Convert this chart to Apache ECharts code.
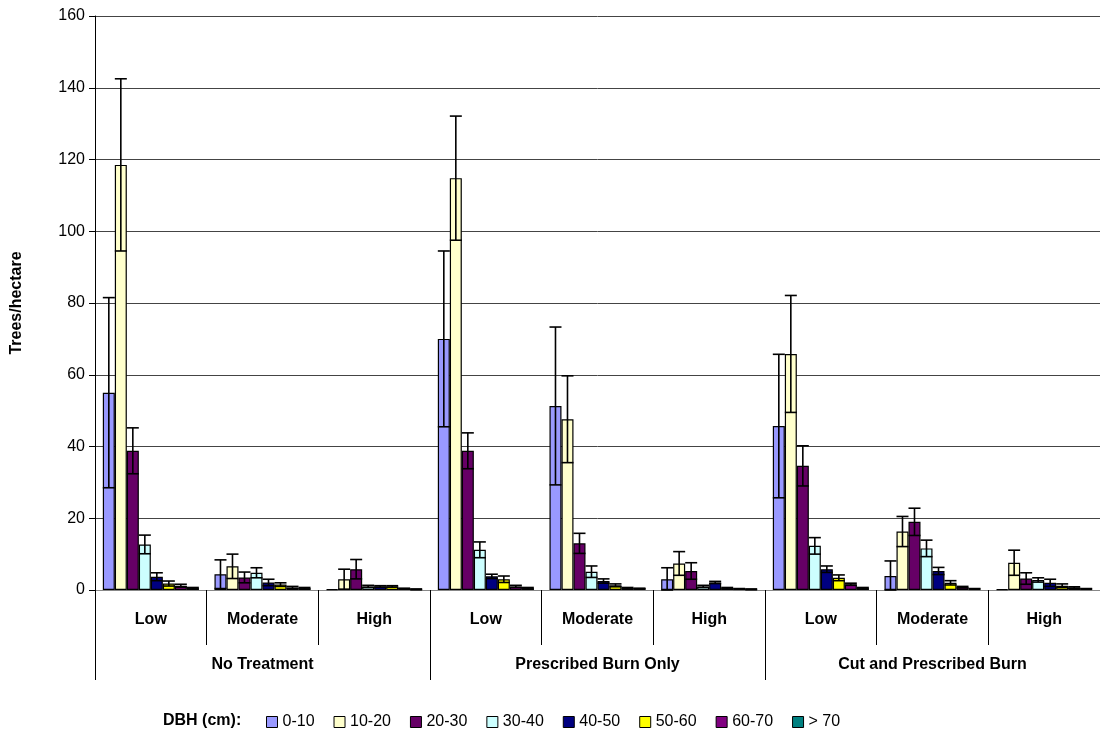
<!DOCTYPE html>
<html>
<head>
<meta charset="utf-8">
<script src="https://cdn.jsdelivr.net/npm/echarts@6/dist/echarts.min.js"></script>
<style>
  html, body { margin: 0; padding: 0; background: #fff; }
  #chart { width: 1100px; height: 736px; }
</style>
</head>
<body>
<div id="chart"></div>
<script>
// severity classes within each treatment
const severities = ['Low', 'Moderate', 'High', 'Low', 'Moderate', 'High', 'Low', 'Moderate', 'High']
const treatments = ['No Treatment', 'Prescribed Burn Only', 'Cut and Prescribed Burn']
const yTicks = [0, 20, 40, 60, 80, 100, 120, 140, 160]

const dbhClasses = ['0-10', '10-20', '20-30', '30-40', '40-50', '50-60', '60-70', '> 70']
const dbhColors = ['#9999FF', '#FFFFCC', '#660066', '#CCFFFF', '#000080', '#FFFF00', '#800080', '#008080']

// mean trees/hectare per DBH class (9 values: treatment x severity)
const d0_10 = [55, 4.4, 0.2, 70, 51.3, 3, 45.7, 3.9, 0.2]
const d10_20 = [118.5, 6.6, 3, 114.8, 47.6, 7.4, 65.8, 16.3, 7.6]
const d20_30 = [38.8, 3.5, 5.8, 38.8, 13, 5.3, 34.6, 19, 3.2]
const d30_40 = [12.7, 4.8, 1, 11.2, 5.1, 1, 12.3, 11.6, 2.8]
const d40_50 = [3.7, 2.1, 1, 3.8, 2.5, 2.1, 5.8, 5.3, 2]
const d50_60 = [1.8, 1.5, 1, 3, 1.3, 0.5, 3.4, 2, 1.2]
const d60_70 = [1.2, 0.7, 0.4, 1, 0.5, 0.3, 1.6, 0.8, 0.7]
const d70 = [0.5, 0.5, 0.2, 0.5, 0.4, 0.2, 0.5, 0.3, 0.3]

// standard errors
const e0_10 = [26.5, 4, 0, 24.5, 22, 3.2, 20, 4.2, 0]
const e10_20 = [24, 3.4, 2.8, 17.3, 12.1, 3.3, 16.3, 4.2, 3.5]
const e20_30 = [6.4, 1.5, 2.7, 5, 2.8, 2.3, 5.6, 3.8, 1.6]
const e30_40 = [2.6, 1.4, 0.3, 2.2, 1.6, 0.3, 2.3, 2.3, 0.6]
const e40_50 = [1.1, 0.9, 0.2, 0.6, 0.6, 0.3, 0.9, 1, 1]
const e50_60 = [0.7, 0.5, 0.2, 0.9, 0.4, 0.2, 0.8, 0.6, 0.5]
const e60_70 = [0.4, 0.3, 0.1, 0.3, 0.2, 0.1, 0.3, 0.2, 0.2]
const e70 = [0.2, 0.2, 0.1, 0.2, 0.1, 0.1, 0.2, 0.1, 0.1]

const means = [d0_10, d10_20, d20_30, d30_40, d40_50, d50_60, d60_70, d70]
const errs = [e0_10, e10_20, e20_30, e30_40, e40_50, e50_60, e60_70, e70]

const CAT_GAP = 0.14
const FONT = 'Liberation Sans, Arial, sans-serif'

const errData = []
means.forEach((arr, s) => {
  arr.forEach((v, c) => {
    if (errs[s][c] > 0) errData.push([c, s, v, errs[s][c]])
  })
})

const renderErr = (params, api) => {
  const c = api.value(0)
  const s = api.value(1)
  const v = api.value(2)
  const e = api.value(3)
  const catW = api.size([1, 0])[0]
  const barW = catW * (1 - CAT_GAP) / dbhClasses.length
  const x = api.coord([c, 0])[0] + (s - (dbhClasses.length - 1) / 2) * barW
  const yTop = api.coord([c, v + e])[1]
  const yBot = api.coord([c, Math.max(v - e, 0)])[1]
  const half = barW * 0.5
  const style = { stroke: '#000', lineWidth: 1.6 }
  return {
    type: 'group',
    children: [
      { type: 'line', shape: { x1: x, y1: yTop, x2: x, y2: yBot }, style },
      { type: 'line', shape: { x1: x - half, y1: yTop, x2: x + half, y2: yTop }, style },
      { type: 'line', shape: { x1: x - half, y1: yBot, x2: x + half, y2: yBot }, style }
    ]
  }
}

const barSeries = dbhClasses.map((name, i) => ({
  name,
  type: 'bar',
  xAxisIndex: 0,
  data: means[i],
  barGap: '0%',
  barCategoryGap: (CAT_GAP * 100) + '%',
  itemStyle: { color: dbhColors[i], borderColor: '#000', borderWidth: 1.2 },
  emphasis: { disabled: true }
}))

const chart = echarts.init(document.getElementById('chart'))
chart.setOption({
  animation: false,
  backgroundColor: '#fff',
  grid: { left: 95, right: 0, top: 16, bottom: 146 },
  legend: {
    data: dbhClasses,
    left: 261,
    top: 709,
    itemWidth: 11,
    itemHeight: 11,
    itemGap: 19,
    icon: 'rect',
    textStyle: { fontFamily: FONT, fontSize: 16, color: '#000' },
    itemStyle: { borderColor: '#000', borderWidth: 1 }
  },
  graphic: [
    {
      type: 'text',
      left: 163,
      top: 713,
      style: { text: 'DBH (cm):', fontFamily: FONT, fontSize: 16, fontWeight: 'bold', fill: '#000' }
    }
  ],
  xAxis: [
    {
      type: 'category',
      data: severities,
      position: 'bottom',
      axisLine: { show: true, lineStyle: { color: '#888', width: 1 } },
      axisTick: { show: true, length: 55, interval: 0, lineStyle: { color: '#000' } },
      axisLabel: { interval: 0, margin: 22, fontFamily: FONT, fontSize: 16, fontWeight: 'bold', color: '#000' },
      splitLine: { show: false }
    },
    {
      type: 'category',
      data: treatments,
      position: 'bottom',
      axisLine: { show: false },
      axisTick: { show: true, length: 90, interval: 0, lineStyle: { color: '#000' } },
      axisLabel: { interval: 0, margin: 67, fontFamily: FONT, fontSize: 16, fontWeight: 'bold', color: '#000' },
      splitLine: { show: false }
    }
  ],
  yAxis: {
    type: 'value',
    min: yTicks[0],
    max: yTicks[yTicks.length - 1],
    interval: 20,
    name: 'Trees/hectare',
    nameLocation: 'middle',
    nameGap: 70,
    nameRotate: 90,
    nameTextStyle: { fontFamily: FONT, fontSize: 16, fontWeight: 'bold', color: '#000' },
    axisLine: { show: true, lineStyle: { color: '#000', width: 1 } },
    axisTick: { show: true, length: 6, lineStyle: { color: '#000' } },
    axisLabel: { fontFamily: FONT, fontSize: 16, color: '#000', margin: 10 },
    splitLine: { show: true, lineStyle: { color: '#444', width: 1 } }
  },
  series: [
    ...barSeries,
    {
      type: 'custom',
      name: 'error',
      xAxisIndex: 0,
      renderItem: renderErr,
      data: errData,
      encode: { x: 0, y: 2 },
      z: 10,
      silent: true
    }
  ]
})

window.addEventListener('resize', () => chart.resize())
</script>
</body>
</html>
